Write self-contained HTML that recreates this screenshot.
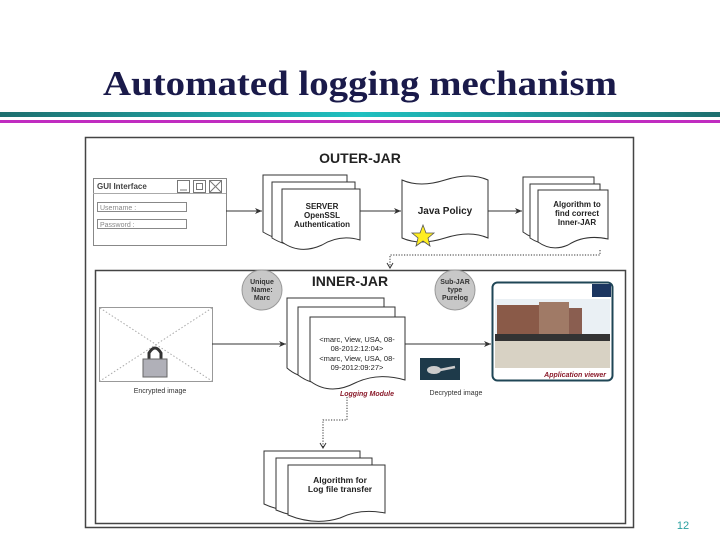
<!DOCTYPE html>
<html><head><meta charset="utf-8"><style>
html,body{margin:0;padding:0;background:#fff;width:720px;height:540px;overflow:hidden}
text{font-family:"Liberation Sans",sans-serif}
</style></head><body>
<svg width="720" height="540" viewBox="0 0 720 540" xmlns="http://www.w3.org/2000/svg">
<defs>
<linearGradient id="tl" x1="0" x2="1"><stop offset="0" stop-color="#1e6f6f"/><stop offset="0.5" stop-color="#20c0c0"/><stop offset="1" stop-color="#1e6f6f"/></linearGradient>
<marker id="ar" markerWidth="8" markerHeight="8" refX="7" refY="4" orient="auto"><path d="M0,1 L7,4 L0,7 L2,4z" fill="#333"/></marker>
<marker id="ad" markerWidth="8" markerHeight="8" refX="6" refY="4" orient="auto"><path d="M1,1 L6,4 L1,7" fill="none" stroke="#333"/></marker>
</defs>
<text x="360" y="95" text-anchor="middle" style="font-family:'Liberation Serif',serif" font-size="35" font-weight="bold" fill="#1a1a4a" textLength="514" lengthAdjust="spacingAndGlyphs">Automated logging mechanism</text>
<rect x="0" y="112" width="720" height="5" fill="url(#tl)"/>
<rect x="0" y="120" width="720" height="3" fill="#c02cc0"/>
<!-- outer -->
<rect x="85.5" y="137.5" width="548" height="390" fill="#fff" stroke="#444" stroke-width="1.5"/>
<text x="360" y="163" text-anchor="middle" font-size="14" font-weight="bold" fill="#222">OUTER-JAR</text>
<!-- GUI -->
<rect x="93.5" y="178.5" width="133" height="67" fill="#fff" stroke="#888"/>
<line x1="93" y1="193.5" x2="226" y2="193.5" stroke="#aaa"/>
<text x="97" y="189" font-size="8" font-weight="bold" fill="#444">GUI Interface</text>
<rect x="177.5" y="180.5" width="12" height="12" fill="#fff" stroke="#777"/>
<rect x="193.5" y="180.5" width="12" height="12" fill="#fff" stroke="#777"/>
<rect x="209.5" y="180.5" width="12" height="12" fill="#fff" stroke="#777"/>
<line x1="180" y1="190" x2="187" y2="190" stroke="#777"/><rect x="196.5" y="183.5" width="6" height="6" fill="none" stroke="#777"/>
<path d="M210,181 L221,192 M221,181 L210,192" stroke="#777"/>
<rect x="97.5" y="202.5" width="89" height="9" fill="#fff" stroke="#888"/>
<text x="100" y="210" font-size="7" fill="#888">Username :</text>
<rect x="97.5" y="219.5" width="89" height="9" fill="#fff" stroke="#888"/>
<text x="100" y="227" font-size="7" fill="#888">Password :</text>
<line x1="226" y1="211" x2="262" y2="211" stroke="#333" marker-end="url(#ar)"/>
<!-- server docs -->
<g fill="#fff" stroke="#333" stroke-width="1">
<path d="M263,175 H347 V230 Q320,225 300,238 Q285,245 263,232 Z"/>
<path d="M272,182 H355 V236 Q330,231 310,243 Q292,250 272,238 Z"/>
<path d="M282,189 H360 V240 Q340,234 322,245 Q300,255 282,242 Z"/>
</g>
<text text-anchor="middle" font-size="8" font-weight="bold" fill="#222"><tspan x="322" y="209">SERVER</tspan><tspan x="322" y="218">OpenSSL</tspan><tspan x="322" y="227">Authentication</tspan></text>
<line x1="360" y1="211" x2="401" y2="211" stroke="#333" marker-end="url(#ar)"/>
<!-- java policy -->
<path d="M402,180 Q420,188 445,180 Q470,172 488,180 V238 Q470,230 445,238 Q420,246 402,238 Z" fill="#fff" stroke="#333"/>
<text x="445" y="214" text-anchor="middle" font-size="10" font-weight="bold" fill="#222">Java Policy</text>
<polygon points="423,225 426,233 434,233 428,238 430,246 423,241 416,246 418,238 412,233 420,233" fill="#ffee22" stroke="#555" stroke-width="0.8"/>
<line x1="488" y1="211" x2="522" y2="211" stroke="#333" marker-end="url(#ar)"/>
<!-- algo docs -->
<g fill="#fff" stroke="#333">
<path d="M523,177 H594 V228 Q570,224 552,236 Q538,243 523,232 Z"/>
<path d="M530,184 H600 V234 Q577,230 560,241 Q545,248 530,238 Z"/>
<path d="M538,190 H608 V239 Q585,234 568,245 Q552,252 538,242 Z"/>
</g>
<text text-anchor="middle" font-size="8" font-weight="bold" fill="#222"><tspan x="577" y="207">Algorithm to</tspan><tspan x="577" y="216">find correct</tspan><tspan x="577" y="225">Inner-JAR</tspan></text>
<path d="M600,250 V255 H390 V268" fill="none" stroke="#333" stroke-dasharray="1.2,1.5" marker-end="url(#ad)"/>
<!-- inner -->
<rect x="95.5" y="270.5" width="530" height="253" fill="none" stroke="#444" stroke-width="1.5"/>
<text x="350" y="286" text-anchor="middle" font-size="14" font-weight="bold" fill="#222">INNER-JAR</text>
<circle cx="262" cy="290" r="20" fill="#c8c8c8" stroke="#999"/>
<text text-anchor="middle" font-size="7" font-weight="bold" fill="#333"><tspan x="262" y="284">Unique</tspan><tspan x="262" y="292">Name:</tspan><tspan x="262" y="300">Marc</tspan></text>
<circle cx="455" cy="290" r="20" fill="#c8c8c8" stroke="#999"/>
<text text-anchor="middle" font-size="7" font-weight="bold" fill="#333"><tspan x="455" y="284">Sub-JAR</tspan><tspan x="455" y="292">type</tspan><tspan x="455" y="300">Purelog</tspan></text>
<!-- encrypted -->
<rect x="99.5" y="307.5" width="113" height="74" fill="#fff" stroke="#999"/>
<path d="M100,308 L212,381 M212,308 L100,381" stroke="#aaa" stroke-dasharray="1.5,2"/>
<path d="M149,360 V353 Q155,343 161,353 V360" fill="none" stroke="#333" stroke-width="3"/>
<rect x="143" y="359" width="24" height="18" fill="#b0b0b8" stroke="#666"/>
<text x="160" y="393" text-anchor="middle" font-size="7" fill="#333">Encrypted image</text>
<line x1="212" y1="344" x2="286" y2="344" stroke="#333" marker-end="url(#ar)"/>
<!-- logging docs -->
<g fill="#fff" stroke="#333">
<path d="M287,298 H384 V366 Q355,360 330,372 Q305,384 287,368 Z"/>
<path d="M298,307 H395 V372 Q365,366 340,378 Q318,390 298,375 Z"/>
<path d="M310,317 H405 V380 Q378,372 355,383 Q330,396 310,381 Z"/>
</g>
<text text-anchor="middle" font-size="7.5" fill="#222"><tspan x="357" y="342">&lt;marc, View, USA, 08-</tspan><tspan x="357" y="351">08-2012:12:04&gt;</tspan><tspan x="357" y="361">&lt;marc, View, USA, 08-</tspan><tspan x="357" y="370">09-2012:09:27&gt;</tspan></text>
<text x="367" y="396" text-anchor="middle" font-size="7" font-style="italic" font-weight="bold" fill="#8a1a2a">Logging Module</text>
<line x1="405" y1="344" x2="491" y2="344" stroke="#333" marker-end="url(#ar)"/>
<!-- keys -->
<rect x="420" y="358" width="40" height="22" fill="#1e3a4a"/>
<ellipse cx="434" cy="370" rx="7" ry="4" fill="#ccc"/><line x1="440" y1="370" x2="455" y2="367" stroke="#ccc" stroke-width="2.5"/>
<text x="456" y="395" text-anchor="middle" font-size="7" fill="#333">Decrypted image</text>
<!-- app viewer -->
<rect x="492.5" y="282.5" width="120" height="98" rx="5" fill="#fff" stroke="#1f4656" stroke-width="2"/>
<rect x="592" y="284" width="19" height="13" fill="#1c3660"/>
<rect x="495" y="299" width="115" height="38" fill="#eaf0f4"/>
<rect x="497" y="305" width="42" height="31" fill="#8a5a48"/>
<rect x="539" y="302" width="30" height="34" fill="#a07a66"/>
<rect x="569" y="308" width="13" height="28" fill="#8a5e50"/>
<rect x="495" y="334" width="115" height="7" fill="#333"/>
<rect x="495" y="341" width="115" height="27" fill="#d8d2c4"/>
<text x="606" y="377" text-anchor="end" font-size="7" font-style="italic" font-weight="bold" fill="#8a1a2a">Application viewer</text>
<!-- dotted to transfer -->
<path d="M347,397 V420 H323 V448" fill="none" stroke="#333" stroke-dasharray="1.2,1.5" marker-end="url(#ad)"/>
<g fill="#fff" stroke="#333">
<path d="M264,451 H360 V502 Q335,497 315,507 Q290,516 264,504 Z"/>
<path d="M276,458 H372 V508 Q348,503 328,513 Q302,521 276,510 Z"/>
<path d="M288,465 H385 V513 Q360,508 340,518 Q315,526 288,515 Z"/>
</g>
<text text-anchor="middle" font-size="8.5" font-weight="bold" fill="#222"><tspan x="340" y="483">Algorithm for</tspan><tspan x="340" y="492">Log file transfer</tspan></text>
<text x="683" y="529" text-anchor="middle" font-size="11" fill="#2aa0a0">12</text>
</svg>
</body></html>
